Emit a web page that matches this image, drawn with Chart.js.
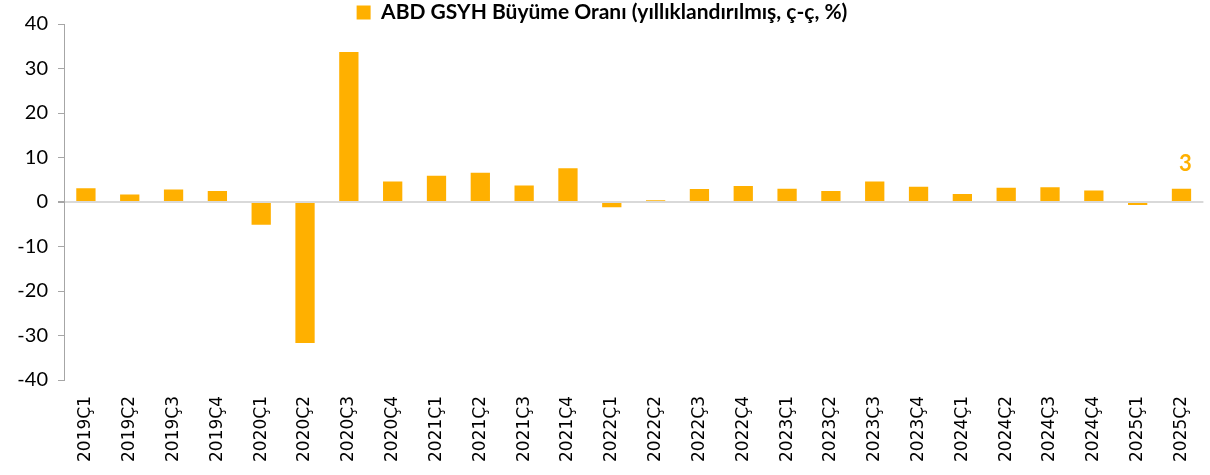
<!DOCTYPE html>
<html>
<head>
<meta charset="utf-8">
<script src="https://cdn.jsdelivr.net/npm/chart.js@4/dist/chart.umd.min.js"></script>
<style>
  html, body { margin: 0; padding: 0; background: #fff; }
  #wrap { width: 1210px; height: 475px; position: relative; }
</style>
</head>
<body>
<div id="wrap"><canvas id="gdpChart"></canvas></div>
<script>
// çeyrekler
var quarters = ['2019Ç1', '2019Ç2', '2019Ç3', '2019Ç4', '2020Ç1', '2020Ç2', '2020Ç3', '2020Ç4',
    '2021Ç1', '2021Ç2', '2021Ç3', '2021Ç4', '2022Ç1', '2022Ç2', '2022Ç3', '2022Ç4',
    '2023Ç1', '2023Ç2', '2023Ç3', '2023Ç4', '2024Ç1', '2024Ç2', '2024Ç3', '2024Ç4',
    '2025Ç1', '2025Ç2'];
// yıllıklandırılmış büyüme, ç-ç, %
var growth = [3.1, 1.7, 2.8, 2.5, -5.1, -31.7, 33.7, 4.6,
    5.9, 6.6, 3.7, 7.6, -1.2, 0.4, 2.9, 3.6,
    3.0, 2.5, 4.6, 3.4, 1.8, 3.2, 3.3, 2.6,
    -0.7, 3.0];
var seriesName = 'ABD GSYH Büyüme Oranı (yıllıklandırılmış, ç-ç, %)';
var yMin = -40, yMax = 40, yStep = 10;

// lejant yüksekliğini sabitle
var legendHeight = {
    id: 'legendHeight',
    beforeInit: function (chart) {
        var origFit = chart.legend.fit;
        chart.legend.fit = function () {
            origFit.bind(chart.legend)();
            this.height = 24;
        };
    }
};

// son çubuğun üstüne etiket
var lastLabel = {
    id: 'lastLabel',
    afterDatasetsDraw: function (chart) {
        var meta = chart.getDatasetMeta(0);
        var i = growth.length - 1;
        var bar = meta.data[i];
        var ctx = chart.ctx;
        ctx.save();
        ctx.font = 'bold 22px Lato';
        ctx.fillStyle = '#FFB000';
        ctx.textAlign = 'center';
        ctx.textBaseline = 'alphabetic';
        ctx.fillText(Math.round(growth[i]).toString(), bar.x + 4, bar.y - 18);
        ctx.restore();
    }
};

var ctx = document.getElementById('gdpChart').getContext('2d');
var gdpChart = new Chart(ctx, {
    type: 'bar',
    data: {
        labels: quarters,
        datasets: [{
            label: seriesName,
            data: growth,
            backgroundColor: '#FFB000',
            borderWidth: 0,
            categoryPercentage: 1,
            barPercentage: 0.44
        }]
    },
    options: {
        responsive: true,
        maintainAspectRatio: false,
        animation: false,
        layout: { padding: { left: 0, right: 6, top: 0, bottom: 0 } },
        plugins: {
            tooltip: { enabled: false },
            legend: {
                position: 'top',
                labels: {
                    boxWidth: 14,
                    boxHeight: 14,
                    color: '#000',
                    font: { family: 'Lato', size: 21, weight: 'bold' },
                    padding: 2
                }
            }
        },
        scales: {
            x: {
                grid: { display: false },
                border: { display: false },
                ticks: {
                    color: '#000',
                    minRotation: 90,
                    maxRotation: 90,
                    autoSkip: false,
                    padding: 8,
                    font: { family: 'DejaVu Sans', size: 17 }
                },
                afterFit: function (scale) { scale.height = 95; }
            },
            y: {
                min: yMin,
                max: yMax,
                ticks: {
                    stepSize: yStep,
                    color: '#000',
                    padding: 10,
                    font: { family: 'Lato', size: 20 }
                },
                border: { display: true, color: '#a6a6a6', width: 1 },
                grid: {
                    color: function (c) { return c.tick && c.tick.value === 0 ? '#d9d9d9' : 'rgba(0,0,0,0)'; },
                    lineWidth: function (c) { return c.tick && c.tick.value === 0 ? 2 : 1; },
                    tickColor: '#a6a6a6',
                    tickLength: 6,
                    drawTicks: true
                },
                afterFit: function (scale) { scale.width = 64; }
            }
        }
    },
    plugins: [legendHeight, lastLabel]
});
</script>
</body>
</html>
